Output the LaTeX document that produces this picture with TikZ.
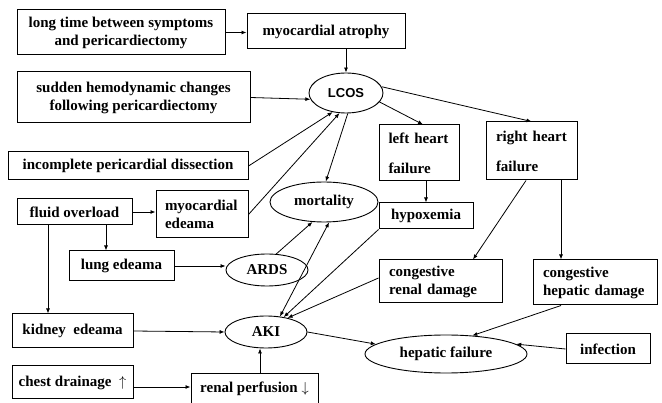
\documentclass[tikz,border=0pt]{standalone}
\usepackage{fontspec}
\setmainfont{Liberation Serif}
\newfontfamily\lcosfont{Liberation Sans}
\usetikzlibrary{shapes.geometric,arrows.meta}
\begin{document}
\begin{tikzpicture}[x=1pt,y=-1pt,
  box/.style={draw, line width=1pt, rectangle, inner sep=0pt, align=center, font=\bfseries\fontsize{15}{18}\selectfont},
  lbox/.style={box, align=left, inner xsep=10pt},
  ell/.style={draw, line width=0.9pt, ellipse, inner sep=0pt, font=\bfseries\fontsize{15}{18}\selectfont},
  arr/.style={line width=0.8pt, -{Latex[length=5pt,width=4pt]}},
  darr/.style={line width=0.8pt, {Latex[length=5pt,width=4pt]}-{Latex[length=5pt,width=4pt]}},
]
\fill[white] (0,0) rectangle (662,403);
\useasboundingbox (0,0) rectangle (662,403);

\node[box, minimum width=208, minimum height=45] (lt) at (121,32.5) {long time between symptoms\\and pericardiectomy};
\node[box, minimum width=158, minimum height=35] (ma) at (326,31.5) {myocardial atrophy};
\node[box, minimum width=233, minimum height=51] (sh) at (133.5,97.5) {sudden hemodynamic changes\\following pericardiectomy};
\node[ell, minimum width=74, minimum height=40, font=\lcosfont\bfseries\fontsize{13}{15}\selectfont] (lcos) at (346,93) {LCOS};
\node[box, minimum width=240, minimum height=28] (ipd) at (128,166) {incomplete pericardial dissection};
\node[lbox, text width=74, minimum height=47, inner xsep=9pt] (me) at (202,214.5) {myocardial\\edeama};
\node[ell, minimum width=108, minimum height=40] (mort) at (324,202) {mortality};
\node[lbox, text width=61, minimum height=56, inner xsep=9.5pt] (lh) at (419,153) {left heart\\[12pt]failure};
\node[lbox, text width=71, minimum height=58] (rh) at (531.5,151) {right heart\\[12pt]failure};
\node[box, minimum width=94, minimum height=26] (hyp) at (426,216) {hypoxemia};
\node[lbox, text width=103, minimum height=43] (cr) at (440.5,281.5) {congestive\\renal damage};
\node[lbox, text width=104, minimum height=45] (chd) at (595,282.5) {congestive\\hepatic damage};
\node[ell, minimum width=162, minimum height=38] (hf) at (446,354) {hepatic failure};
\node[box, minimum width=84, minimum height=30] (inf) at (608,349) {infection};
\node[box, minimum width=115, minimum height=26] (fo) at (74.5,212) {fluid overload};
\node[box, minimum width=105, minimum height=30] (le) at (121.5,266) {lung edeama};
\node[ell, minimum width=82, minimum height=32] (ards) at (267,270) {ARDS};
\node[ell, minimum width=82, minimum height=32] (aki) at (266,332) {AKI};
\node[box, minimum width=121, minimum height=34] (kd) at (72.5,331) {kidney~~edeama};
\node[box, minimum width=121, minimum height=33] (cd) at (72.5,382.5) {chest drainage~~$\big\uparrow$};
\node[box, minimum width=127, minimum height=30] (rp) at (254.5,389) {renal perfusion~$\big\downarrow$};

\coordinate (rhs1) at ([xshift=-5.5pt]rh.south);
\coordinate (crn) at ([xshift=32.5pt]cr.north);
\coordinate (rhs2) at ([xshift=29.5pt]rh.south);
\coordinate (chs) at ([xshift=-34pt]chd.south);
\coordinate (fos1) at ([xshift=31.5pt]fo.south);
\coordinate (fos2) at ([xshift=-26.5pt]fo.south);
\coordinate (lhn) at ([xshift=4pt]lh.north);
\coordinate (crw) at ([yshift=3.5pt]cr.west);
\coordinate (cde) at ([yshift=-4.5pt]cd.east);
\coordinate (rpn) at ([xshift=5.5pt]rp.north);

\draw[arr] (lt.east) -- (lt.east -| ma.west);
\draw[arr] (ma.south -| lcos.north) -- (lcos.north);
\draw[arr] (sh.east) -- (lcos.190);
\draw[arr] (ipd.east) -- (lcos.235);
\draw[arr] (me.east) -- (lcos.252);
\draw[arr] (lcos.275) -- (mort.85);
\draw[arr] (lcos.345) -- (lhn);
\draw[arr] (lcos.10) -- (rh.north);
\draw[arr] (lh.south -| hyp.north) -- (hyp.north);
\draw[arr] (rhs1) -- (crn);
\draw[arr] (rhs2) -- (rhs2 |- chd.north);
\draw[arr] (chs) -- (hf.35);
\draw[arr] (inf.west) -- (hf.8);
\draw[arr] (aki.east) -- (hf.172);
\draw[arr] (fo.east) -- (fo.east -| me.west);
\draw[arr] (fos1) -- (fos1 |- le.north);
\draw[arr] (fos2) -- (fos2 |- kd.north);
\draw[arr] (le.east) -- (le.east -| ards.west);
\draw[arr] (ards.60) -- (mort.240);
\draw[darr] (aki.48) -- (mort.284);
\draw[arr] (hyp.south west) -- (aki.40);
\draw[arr] (crw) -- (aki.33);
\draw[arr] (kd.east) -- (aki.west);
\draw[arr] (cde) -- (cde -| rp.west);
\draw[arr] (rpn) -- (rpn |- aki.south);
\end{tikzpicture}
\end{document}
